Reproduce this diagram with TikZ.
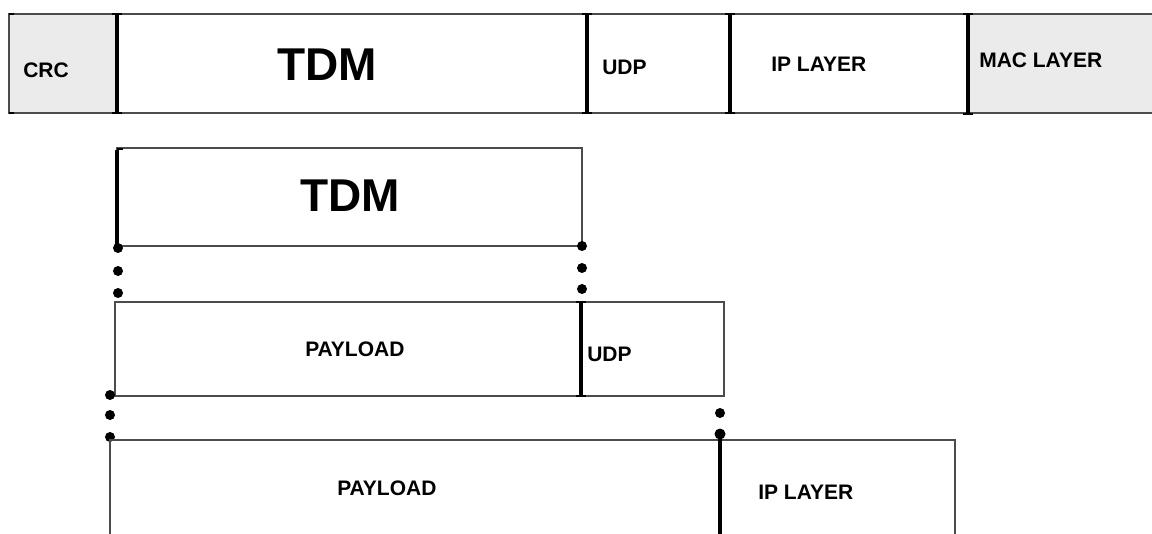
\documentclass[tikz,border=0pt]{standalone}
\usepackage{fontspec}
\setmainfont{Liberation Sans}
\begin{document}
\begin{tikzpicture}[x=0.75pt,y=-0.75pt,
  frame/.style={draw=black!70, line width=1.3pt},
  sepline/.style={draw=black, line width=2.4pt},
  serif/.style={draw=black, line width=1.4pt},
  shade/.style={fill=black!8},
  lbl/.style={font=\bfseries\fontsize{15.75}{18}\selectfont, inner sep=0pt, anchor=base west},
  big/.style={font=\bfseries\fontsize{34.5}{40}\selectfont, inner sep=0pt, anchor=base west},
  dotmark/.style={fill=black}
]
\useasboundingbox (0,0) rectangle (1152,534);
\newcommand\ibeam[3]{%
  \draw[sepline] (#1,#2) -- (#1,#3);
  \draw[serif] (#1-5,#2) -- (#1+5,#2);
  \draw[serif] (#1-5,#3) -- (#1+5,#3);}

% ---------- top frame ----------
\fill[shade] (9,14) rectangle (117,113);
\fill[shade] (968,14) rectangle (1152,113);
\draw[frame] (1152,14) -- (9,14) -- (9,113) -- (1152,113);
\draw[serif] (9,14) -- (14,14) (9,113) -- (14,113);
\ibeam{117}{14}{113}
\ibeam{587}{14}{113}
\ibeam{730}{14}{113}
\ibeam{968}{14}{114}

\node[lbl] (crc) at (23,78) {CRC};
\node[big] (tdm1) at (277,81) {TDM};
\node[lbl] (udp1) at (602,75) {UDP};
\node[lbl] (ip1) at (771,72) {IP LAYER};
\node[lbl] (mac1) at (979,68) {MAC LAYER};

% ---------- TDM block ----------
\draw[frame] (117,246) -- (117,148) -- (582,148) -- (582,246) -- cycle;
\draw[sepline] (117,150) -- (117,246);
\draw[serif] (117,149) -- (123,149);
\node[big] (tdm2) at (300,212) {TDM};
\fill[dotmark] (118,248) circle (5);
\fill[dotmark] (118,271) circle (5);
\fill[dotmark] (118,293) circle (5);
\fill[dotmark] (582,246) circle (5);
\fill[dotmark] (582,268) circle (5);
\fill[dotmark] (582,289) circle (5);

% ---------- PAYLOAD / UDP block ----------
\draw[frame] (115,302) rectangle (724,396);
\ibeam{581}{302}{396}
\node[lbl] (pay1) at (305,356) {PAYLOAD};
\node[lbl] (udp2) at (587,362) {UDP};
\fill[dotmark] (110,395) circle (5);
\fill[dotmark] (110,415) circle (5);
\fill[dotmark] (110,437) circle (5);
\fill[dotmark] (720,413) circle (5);
\fill[dotmark] (720,434) circle (5.5);

% ---------- PAYLOAD / IP block ----------
\draw[frame] (110,540) -- (110,440) -- (955,440) -- (955,540);
\draw[sepline] (720,436) -- (720,540);
\node[lbl] (pay2) at (337,495) {PAYLOAD};
\node[lbl] (ip2) at (758,499) {IP LAYER};
\end{tikzpicture}
\end{document}
